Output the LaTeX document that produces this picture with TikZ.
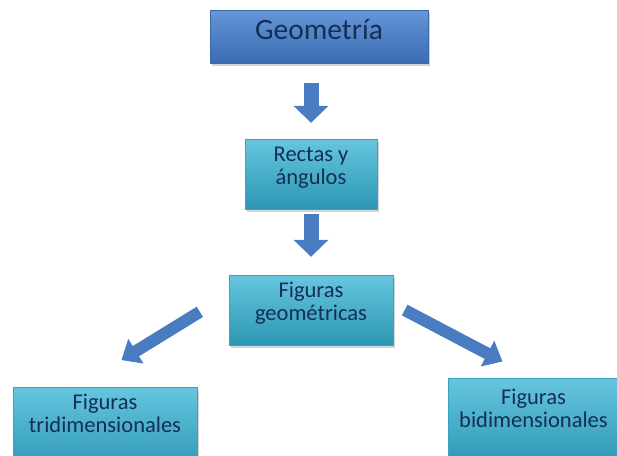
\documentclass[tikz,border=0pt]{standalone}
\usepackage{fontspec}
\setmainfont{Carlito}
\usetikzlibrary{arrows.meta,shadows}
\definecolor{geotop}{HTML}{6496D8}
\definecolor{geobot}{HTML}{3B6BB2}
\definecolor{geoedge}{HTML}{3A67A8}
\definecolor{tealtop}{HTML}{66C6DE}
\definecolor{tealbot}{HTML}{2C96B4}
\definecolor{tealedge}{HTML}{3AA3BF}
\definecolor{boxtext}{HTML}{142F52}
\definecolor{arrowblue}{HTML}{4A7CC2}
\tikzset{
  boxshadow/.style={drop shadow={shadow xshift=2pt,shadow yshift=-3pt,opacity=.35}},
  geobox/.style={rectangle, inner sep=0pt, text=boxtext, draw=geoedge, top color=geotop, bottom color=geobot, boxshadow, font=\fontsize{29.5}{31}\selectfont, text height=29pt, text depth=24pt},
  topic/.style={rectangle, inner sep=0pt, align=center, text=boxtext, draw=tealedge, top color=tealtop, bottom color=tealbot, boxshadow, font=\fontsize{22.5}{23}\selectfont, text height=45pt, text depth=25pt},
  fat/.style={line width=15pt, draw=arrowblue, -{Triangle[width=34pt,length=17pt]}},
  slim/.style={line width=12pt, draw=arrowblue, -{Triangle[width=28pt,length=17pt]}}
}
\begin{document}
\begin{tikzpicture}[x=1pt,y=-1pt]
        \useasboundingbox (0,0) rectangle (617,455);
        \node[geobox, minimum width=218pt, anchor=base] (geo) at (319,39) {Geometría};
        \node[topic, minimum width=132pt, anchor=base] (rectas) at (311,184) {Rectas y\\ángulos};
        \node[topic, minimum width=164pt, anchor=base] (figgeo) at (311,320) {Figuras\\geométricas};
        \node[topic, minimum width=184pt, anchor=base, text depth=40pt] (tri) at (105,432) {Figuras\\tridimensionales};
        \node[topic, minimum width=171pt, anchor=base, text height=49pt, text depth=40pt] (bidi) at (533.5,427) {Figuras\\bidimensionales};
        \draw[fat, shorten <=20pt, shorten >=16pt] (geo.south -| rectas.north) -- (rectas.north);
        \draw[fat, shorten <=5pt, shorten >=18pt] (rectas.south) -- (figgeo.north);
        \draw[slim, shorten <=34pt, shorten >=51pt] ([yshift=16pt]figgeo.west) -- ([xshift=-27pt]tri.north);
        \draw[slim, shorten <=13pt, shorten >=35pt] ([yshift=6pt]figgeo.east) -- (bidi.north);
    \end{tikzpicture}
\end{document}
